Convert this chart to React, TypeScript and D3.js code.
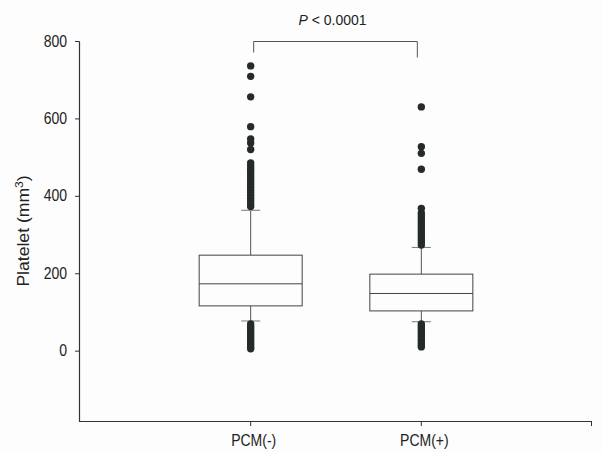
import React from 'react';
import * as d3 from 'd3';

const categories = ['PCM(-)', 'PCM(+)'];
const q1 = [117, 104];
const median = [174, 149];
const q3 = [248, 199];
const whiskerLow = [78, 76];
const whiskerHigh = [364, 268];
const outliersNeg = [737, 710, 657, 580, 548, 538, 521, 486, 479, 472, 465, 458, 451, 444, 437, 430, 423, 416, 409, 402, 395, 388, 381, 374, 70, 64, 58, 52, 46, 40, 34, 28, 22, 16, 10, 6];
const outliersPos = [631, 528, 511, 470, 369, 357, 350, 343, 336, 329, 322, 315, 308, 301, 294, 287, 280, 274, 70, 64, 58, 52, 46, 40, 34, 28, 22, 16, 11];
const outliers = [outliersNeg, outliersPos];
const yTicks = [0, 200, 400, 600, 800];
const pLabel = 'P < 0.0001';

export default function App() {
  const W = 602, H = 453;
  const y = d3.scaleLinear().domain([-183, 800]).range([422, 41.5]);
  const x = d3.scalePoint<string>().domain(categories).range([80, 592]).padding(1);
  const boxW = 103;
  const capW = 19;
  const font = 'Arial, "Liberation Sans", sans-serif';
  const bx0 = x(categories[0])! + 3;
  const bx1 = x(categories[1])! - 4;
  const by = y(800);
  return (
    <div style={{ position: 'fixed', left: 0, top: 0 }}>
      <svg width={W} height={H} style={{ display: 'block', background: '#fff' }}>
        <rect width={W} height={H} fill="#fdfdfe" />
        {/* axes */}
        <line x1={79.5} x2={79.5} y1={y(800)} y2={422} stroke="#333" strokeWidth={1.2} />
        <line x1={79.5} x2={592} y1={421.5} y2={421.5} stroke="#333" strokeWidth={1.2} />
        {yTicks.map(t => (
          <g key={t}>
            <line x1={75} x2={79.5} y1={y(t)} y2={y(t)} stroke="#333" strokeWidth={1} />
            <text transform={`translate(67,${y(t) + 5}) scale(1,1.15)`} textAnchor="end"
              fontFamily={font} fontSize={14} fill="#222">{t}</text>
          </g>
        ))}
        {categories.map(c => (
          <g key={c}>
            <line x1={x(c)!} x2={x(c)!} y1={421.5} y2={426} stroke="#333" strokeWidth={1} />
            <text transform={`translate(${x(c)! + 3},446) scale(1,1.15)`} textAnchor="middle"
              fontFamily={font} fontSize={14} fill="#222">{c}</text>
          </g>
        ))}
        <line x1={591.5} x2={591.5} y1={421.5} y2={426} stroke="#333" strokeWidth={1} />
        {/* y label */}
        <text transform={`translate(28.5,231) rotate(-90) scale(1.1,1)`} textAnchor="middle"
          fontFamily={font} fontSize={16} fill="#222">
          Platelet (mm<tspan dy={-6} fontSize={11}>3</tspan><tspan dy={6}>)</tspan>
        </text>
        {/* boxes */}
        {categories.map((c, i) => {
          const cx = x(c)!;
          return (
            <g key={c}>
              <line x1={cx} x2={cx} y1={y(q3[i])} y2={y(whiskerHigh[i])} stroke="#555" strokeWidth={1} />
              <line x1={cx} x2={cx} y1={y(q1[i])} y2={y(whiskerLow[i])} stroke="#555" strokeWidth={1} />
              <line x1={cx - capW / 2} x2={cx + capW / 2} y1={y(whiskerHigh[i])} y2={y(whiskerHigh[i])} stroke="#777" strokeWidth={1} />
              <line x1={cx - capW / 2} x2={cx + capW / 2} y1={y(whiskerLow[i])} y2={y(whiskerLow[i])} stroke="#777" strokeWidth={1} />
              <rect x={cx - boxW / 2} y={y(q3[i])} width={boxW} height={y(q1[i]) - y(q3[i])}
                fill="none" stroke="#444" strokeWidth={1} />
              <line x1={cx - boxW / 2} x2={cx + boxW / 2} y1={y(median[i])} y2={y(median[i])} stroke="#444" strokeWidth={1} />
              {outliers[i].map((v, j) => (
                <circle key={j} cx={cx} cy={y(v)} r={3.7} fill="#252a2a" />
              ))}
            </g>
          );
        })}
        {/* significance bracket */}
        <path d={`M${bx0},${by + 11}V${by}H${bx1}V${by + 16}`} fill="none" stroke="#555" strokeWidth={1} />
        <text x={(bx0 + bx1) / 2 - 3} y={25} textAnchor="middle" fontFamily={font} fontSize={14} fill="#222">
          <tspan fontStyle="italic">P</tspan>{pLabel.slice(1)}
        </text>
      </svg>
    </div>
  );
}
